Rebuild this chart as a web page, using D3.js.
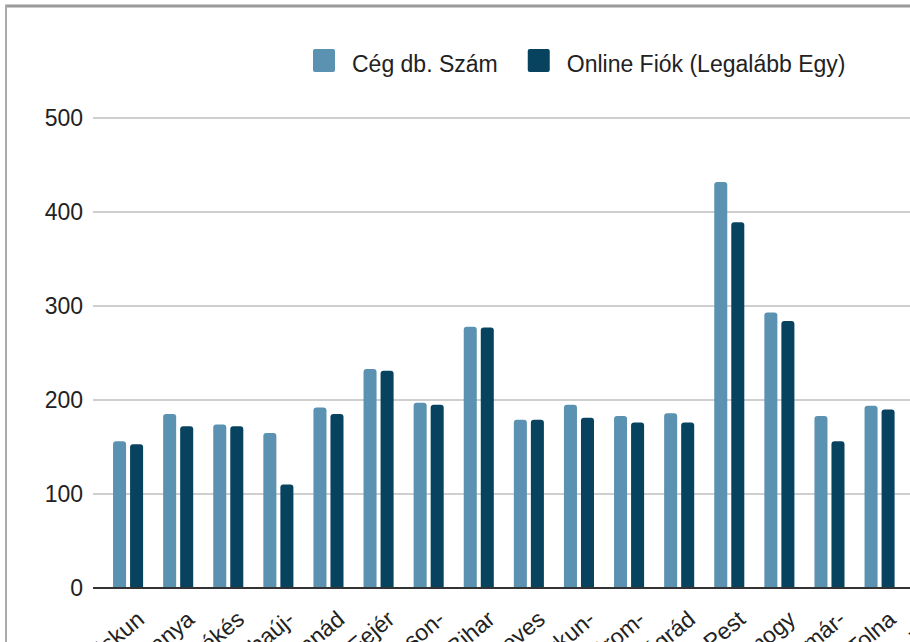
<!DOCTYPE html>
<html>
<head>
<meta charset="utf-8">
<script src="https://cdn.jsdelivr.net/npm/d3@7"></script>
<style>
    body { margin: 0; background: #fff; }
    svg { display: block; font-family: "Liberation Sans", Arial, sans-serif; }
</style>
</head>
<body>
<div id="chart"></div>
<script>
// counties in the order of the sheet (the last ones are outside the visible crop)
const counties = ["Bács-Kiskun", "Baranya", "Békés", "Borsod-Abaúj-Zemplén", "Csongrád-Csanád",
    "Fejér", "Győr-Moson-Sopron", "Hajdú-Bihar", "Heves", "Jász-Nagykun-Szolnok",
    "Komárom-Esztergom", "Nógrád", "Pest", "Somogy", "Szabolcs-Szatmár-Bereg", "Tolna",
    "Vas", "Veszprém", "Zala"];

// first line of each wrapped axis label, the second line is cut off in the picture
const tickLabels = ["Bács-Kiskun", "Baranya", "Békés", "Borsod-Abaúj-", "Csongrád-Csanád",
    "Fejér", "Győr-Moson-", "Hajdú-Bihar", "Heves", "Jász-Nagykun-",
    "Komárom-", "Nógrád", "Pest", "Somogy", "Szabolcs-Szatmár-", "Tolna",
    "Vas", "Veszprém", "Zala"];

const seriesNames = ["Cég db. Szám", "Online Fiók (Legalább Egy)"];
const cegDb =      [156, 185, 174, 165, 192, 233, 197, 278, 179, 195, 183, 186, 432, 293, 183, 194, null, null, null];
const onlineFiok = [153, 172, 172, 110, 185, 231, 195, 277, 179, 181, 176, 176, 389, 284, 156, 190, null, null, null];
const yTicks = [0, 100, 200, 300, 400, 500];

const colors = ["#5b92b1", "#07435f"];
const width = 910, height = 642;

/**
 * Path of a bar with rounded top corners.
 */
function barPath(x, y, w, h, r) {
    r = Math.min(r, h, w / 2);
    return "M" + x + "," + (y + h) +
        "V" + (y + r) +
        "Q" + x + "," + y + " " + (x + r) + "," + y +
        "H" + (x + w - r) +
        "Q" + (x + w) + "," + y + " " + (x + w) + "," + (y + r) +
        "V" + (y + h) + "Z";
}

const svg = d3.select("#chart").append("svg")
    .attr("width", width)
    .attr("height", height);

// frame of the cropped screenshot
svg.append("line").attr("x1", 5).attr("x2", width).attr("y1", 6).attr("y2", 6)
    .attr("stroke", "#9a9a9a").attr("stroke-width", 3);
svg.append("line").attr("x1", 6).attr("x2", 6).attr("y1", 5).attr("y2", height)
    .attr("stroke", "#ababab").attr("stroke-width", 2);

const plotLeft = 93, baseY = 588;

const y = d3.scaleLinear().domain([0, 500]).range([baseY, 118]);

// step of about 50px per county, the plot runs past the right edge
const x0 = d3.scaleBand()
    .domain(counties)
    .range([plotLeft, plotLeft + 50.1 * (counties.length + 0.4)])
    .paddingInner(0.4)
    .paddingOuter(0.4);

const x1 = d3.scaleBand()
    .domain(seriesNames)
    .range([0, x0.bandwidth()])
    .paddingInner(0.235);

// grid
svg.append("g").selectAll("line")
    .data(yTicks.filter(d => d > 0))
    .join("line")
    .attr("x1", plotLeft).attr("x2", width)
    .attr("y1", d => y(d)).attr("y2", d => y(d))
    .attr("stroke", "#cfcfcf").attr("stroke-width", 2);

// y labels
svg.append("g").selectAll("text")
    .data(yTicks)
    .join("text")
    .attr("x", 83)
    .attr("y", d => y(d))
    .attr("dy", "0.35em")
    .attr("text-anchor", "end")
    .attr("font-size", 23)
    .attr("fill", "#222")
    .text(d => d);

// bars
const seriesValues = [cegDb, onlineFiok];
seriesNames.forEach(function (name, s) {
    svg.append("g").selectAll("path")
        .data(counties.map((c, i) => ({county: c, value: seriesValues[s][i]})).filter(d => d.value != null))
        .join("path")
        .attr("fill", colors[s])
        .attr("d", d => barPath(x0(d.county) + x1(name), y(d.value),
            x1.bandwidth(), baseY - y(d.value), 3));
});

// baseline
svg.append("line")
    .attr("x1", plotLeft).attr("x2", width)
    .attr("y1", baseY).attr("y2", baseY)
    .attr("stroke", "#333").attr("stroke-width", 2);

// rotated x labels
svg.append("g").selectAll("text")
    .data(counties)
    .join("text")
    .attr("transform", d => "translate(" + (x0(d) + x0.bandwidth() / 2 + 7) + "," + 609 + ") rotate(-40)")
    .attr("dy", "0.72em")
    .attr("text-anchor", "end")
    .attr("font-size", 23)
    .attr("fill", "#222")
    .text((d, i) => tickLabels[i]);

// legend
const legend = svg.append("g");
let lx = 313;
seriesNames.forEach(function (name, s) {
    legend.append("rect")
        .attr("x", lx).attr("y", 49)
        .attr("width", 22).attr("height", 23)
        .attr("rx", 2)
        .attr("fill", colors[s]);
    const t = legend.append("text")
        .attr("x", lx + 39).attr("y", 72)
        .attr("font-size", 23)
        .attr("fill", "#222")
        .text(name);
    lx += 39 + t.node().getComputedTextLength() + 30;
});
</script>
</body>
</html>
